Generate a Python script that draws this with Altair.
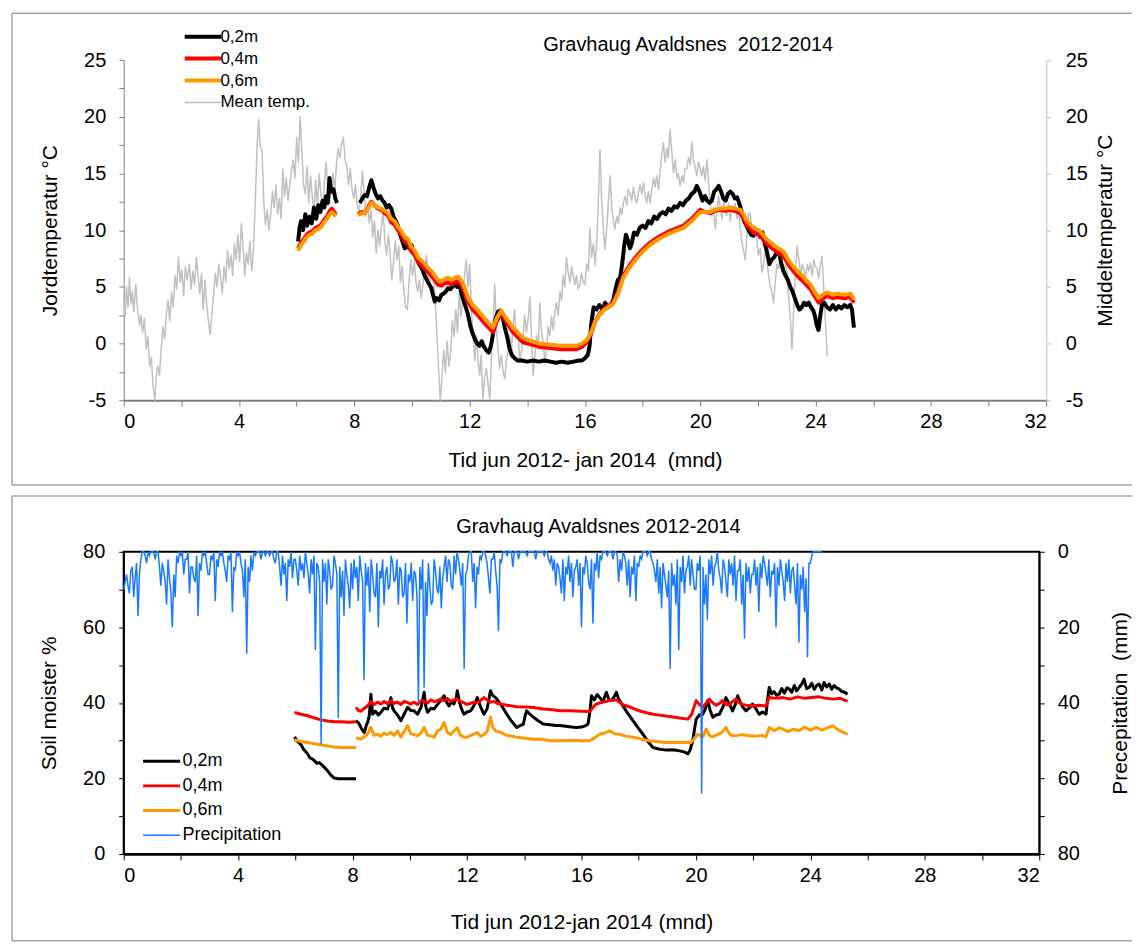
import altair as alt
import pandas as pd
import numpy as np

FONT = "Liberation Sans"

# ------------------------------------------------------------------ top panel
TOP_TITLE = "Gravhaug Avaldsnes\u00a0 2012-2014"
TOP_XTITLE = "Tid jun 2012- jan 2014\u00a0 (mnd)"
TOP_YTITLE = "Jordtemperatur °C"
TOP_Y2TITLE = "Middeltemperatur °C"
TOP_SERIES = ["0,2m", "0,4m", "0,6m", "Mean temp."]

MEAN_MONTH = [0.00, 0.05, 0.10, 0.15, 0.20, 0.25, 0.30, 0.35, 0.42, 0.48, 0.55, 0.60, 0.66, 0.72, 0.78, 0.84, 0.90, 0.96,
              1.02, 1.08, 1.13, 1.18, 1.24, 1.30, 1.36, 1.42, 1.48, 1.54, 1.60, 1.66, 1.72, 1.78, 1.84, 1.90, 1.96,
              2.02, 2.08, 2.14, 2.20, 2.28, 2.34, 2.40, 2.46, 2.52, 2.58, 2.64, 2.70, 2.76, 2.82, 2.88, 2.94,
              3.00, 3.06, 3.12, 3.18, 3.24, 3.30, 3.36, 3.42, 3.48, 3.54, 3.60, 3.66, 3.72, 3.78, 3.84, 3.90, 3.96,
              4.02, 4.08, 4.14, 4.20, 4.26, 4.32, 4.38, 4.44, 4.50, 4.56, 4.62, 4.68, 4.74, 4.80, 4.86, 4.92, 4.98,
              5.04, 5.10, 5.16, 5.22, 5.28, 5.34, 5.40, 5.46, 5.52, 5.58, 5.64, 5.70, 5.76, 5.82, 5.88, 5.94,
              6.00, 6.06, 6.12, 6.18, 6.24, 6.30, 6.36, 6.42, 6.48, 6.54, 6.60, 6.66, 6.72, 6.78, 6.84, 6.90, 6.96,
              7.02, 7.08, 7.14, 7.20, 7.26, 7.32, 7.38, 7.44, 7.50, 7.56, 7.62, 7.68, 7.74, 7.80, 7.86, 7.92, 7.98,
              8.04, 8.10, 8.16, 8.22, 8.28, 8.34, 8.40, 8.46, 8.52, 8.58, 8.64, 8.70, 8.76, 8.82, 8.88, 8.94,
              9.00, 9.06, 9.12, 9.18, 9.24, 9.30, 9.36, 9.42, 9.48, 9.54, 9.60, 9.66, 9.72, 9.78, 9.84, 9.90, 9.96,
              10.02, 10.08, 10.14, 10.20, 10.26, 10.32, 10.38, 10.44, 10.50, 10.56, 10.62, 10.68, 10.74, 10.80, 10.86,
              10.92, 10.98, 11.04, 11.10, 11.16, 11.22, 11.28, 11.34, 11.40, 11.46, 11.52, 11.58, 11.64, 11.70, 11.76,
              11.82, 11.88, 11.94, 12.00, 12.06, 12.12, 12.18,
              12.23, 12.29, 12.35, 12.40, 12.46, 12.52, 12.58, 12.64, 12.70, 12.76, 12.82, 12.87, 12.93, 12.98,
              13.04, 13.10, 13.16, 13.22, 13.28, 13.34, 13.39, 13.45, 13.50, 13.56, 13.62, 13.68, 13.74, 13.80, 13.86,
              13.91, 13.97, 14.03, 14.09, 14.14, 14.20, 14.26, 14.32, 14.38, 14.43, 14.49, 14.55, 14.61, 14.67, 14.72,
              14.78, 14.84, 14.90, 14.96, 15.01, 15.07, 15.13, 15.19, 15.24, 15.30, 15.36, 15.42, 15.48, 15.54, 15.59,
              15.65, 15.71, 15.76, 15.82, 15.88, 15.94, 16.00, 16.06, 16.12, 16.17, 16.23, 16.29, 16.35, 16.41, 16.46,
              16.52, 16.58, 16.63, 16.69, 16.75, 16.81, 16.87, 16.93, 16.98, 17.04, 17.10, 17.16, 17.22, 17.28, 17.33,
              17.39, 17.45, 17.50, 17.56, 17.62, 17.68, 17.74, 17.79, 17.85, 17.91, 17.97, 18.03, 18.09, 18.14, 18.20,
              18.26, 18.32, 18.38, 18.43, 18.49, 18.55, 18.61, 18.66, 18.72, 18.78, 18.84, 18.89, 18.95, 19.01, 19.07,
              19.13, 19.19, 19.24, 19.30, 19.36, 19.42, 19.47, 19.53, 19.59, 19.65, 19.71, 19.76, 19.82, 19.88, 19.94,
              20.00, 20.05, 20.11, 20.17, 20.23, 20.28, 20.34, 20.40, 20.46, 20.52, 20.58, 20.63, 20.69, 20.75, 20.81,
              20.86, 20.92, 20.98, 21.04, 21.09, 21.15, 21.21, 21.27, 21.33, 21.39, 21.44, 21.50, 21.56, 21.62, 21.67,
              21.73, 21.79, 21.85, 21.91, 21.97, 22.02, 22.08, 22.14, 22.20, 22.25, 22.31, 22.37, 22.43, 22.48, 22.54,
              22.60, 22.66, 22.72, 22.78, 22.83, 22.89, 22.95, 23.01, 23.07, 23.13, 23.18, 23.24, 23.30, 23.36, 23.42,
              23.48, 23.53, 23.59, 23.65, 23.71, 23.76, 23.82, 23.88, 23.94, 23.99, 24.05, 24.11, 24.17, 24.22, 24.28,
              24.34, 24.40]
MEAN_TEMP = [4.3, 2.4, 5.0, 3.2, 5.8, 3.5, 4.6, 2.8, 5.2, 3.0, 1.6, 2.5, 1.0, 2.2, -0.5, 0.6, -2.0, -1.2,
             -3.8, -5.0, -3.0, -2.0, -2.8, -0.5, 1.5, 0.4, 2.6, 3.8, 2.0, 4.5, 3.2, 6.0, 4.8, 7.6, 5.4,
             6.5, 4.2, 6.8, 5.6, 7.0, 4.8, 6.4, 5.2, 7.6, 6.0, 4.4, 6.2, 3.0, 5.6, 3.4, 2.0,
             0.8, 2.6, 4.4, 6.2, 5.0, 7.0, 5.8, 4.4, 6.8, 5.4, 8.2, 6.6, 7.8, 6.0, 8.8, 7.4, 9.6,
             7.2, 10.6, 8.6, 6.0, 8.0, 7.0, 9.0, 6.4, 8.2, 12.0, 17.0, 19.8, 17.4, 17.0, 12.4, 10.5, 11.8,
             10.0, 11.4, 13.4, 12.0, 14.0, 11.4, 12.8, 11.0, 15.4, 13.0, 14.6, 12.6, 14.0, 15.2, 16.2, 14.6,
             18.2, 16.0, 20.0, 17.0, 14.0, 13.2, 15.6, 12.4, 14.8, 13.0, 11.6, 14.4, 12.0, 15.0, 13.2, 11.8, 14.2,
             16.0, 13.6, 12.4, 13.8, 15.0, 13.4, 15.8, 17.2, 16.4, 17.6, 18.2, 16.2, 15.6, 14.0, 15.4, 13.6, 12.8,
             14.0, 12.2, 11.6, 12.8, 15.2, 13.4, 11.2, 12.4, 10.6, 11.8, 9.4, 10.8, 8.0, 10.0, 8.6, 10.4,
             11.6, 9.0, 7.8, 9.6, 8.0, 5.6, 7.2, 9.0, 7.4, 8.6, 5.4, 6.8, 4.6, 3.2, 3.0, 5.6, 7.4,
             6.0, 7.2, 5.4, 4.6, 5.6, 4.0, 5.2, 6.4, 7.8, 6.2, 5.0, 6.4, 6.0, 4.0, 1.0,
             -2.0, -5.0, -3.0, -0.6, -2.6, 0.2, -2.0, -0.8, 2.0, 0.6, 3.0, 1.0, 4.6, 2.4, 4.0,
             6.0, 7.4, 5.0, 7.0, 3.0, 0.6, -1.5,
             0.7, -1.5, -2.8, -1.0, -4.9, -3.0, -2.2, -3.6, -4.9, -1.0, 2.0, 5.2, 1.5, -0.5,
             -2.2, -1.0, -2.5, -3.1, -1.5, -0.4, 0.7, -0.8, 1.6, 3.0, 0.5, 1.2, -1.7, -0.6, 0.8,
             2.5, 1.0, 2.2, 4.1, 1.0, -2.8, -1.2, 0.7, -0.5, 3.6, 1.2, 0.0, -1.7, -0.5, 1.5,
             0.7, 2.4, 1.2, 2.8, 3.6, 2.5, 4.6, 3.8, 6.0, 5.0, 7.6, 6.2, 5.4, 6.8, 6.0,
             5.2, 6.0, 4.8, 5.1, 6.2, 5.4, 5.2, 7.0, 6.4, 10.2, 7.6, 8.8, 6.9, 9.0, 12.0,
             17.1, 12.6, 10.4, 8.3, 10.0, 12.4, 14.8, 12.0, 11.0, 10.1, 11.2, 10.6, 12.0, 11.4, 12.4,
             13.0, 12.2, 13.6, 13.3, 12.6, 13.8, 12.8, 12.4, 13.2, 14.0, 13.2, 14.2, 13.0, 12.4, 13.4,
             12.4, 13.6, 14.6, 13.8, 14.8, 13.6, 15.2, 16.6, 17.7, 16.0, 17.2, 16.4, 18.9, 17.0, 15.1,
             16.2, 14.6, 15.0, 13.9, 14.8, 14.2, 15.4, 15.4, 16.4, 15.8, 17.8, 16.2, 15.6, 14.8, 16.0,
             15.4, 14.8, 15.6, 14.4, 16.2, 14.6, 12.4, 11.2, 12.0, 10.1, 11.6, 13.0, 12.1, 11.0, 12.6,
             11.8, 11.3, 12.4, 10.8, 12.0, 11.5, 12.4, 11.0, 11.8, 10.1, 9.0, 8.2, 7.4, 9.6, 11.5,
             11.5, 10.2, 9.6, 10.4, 8.9, 7.8, 8.4, 6.3, 7.0, 8.2, 7.4, 6.0, 5.0, 4.6, 3.6,
             5.4, 7.0, 6.6, 8.3, 7.2, 6.0, 7.0, 6.3, 4.0, 2.0, -0.5, 3.0, 6.6, 8.6, 7.4,
             6.0, 7.0, 6.6, 5.8, 7.0, 6.4, 7.1, 6.0, 7.4, 6.8, 6.6, 5.8, 7.0, 7.7, 5.0,
             2.0, -1.1]

T02_MONTH_A = [6.05, 6.10, 6.15, 6.22, 6.30, 6.36, 6.45, 6.52, 6.60, 6.68, 6.75, 6.82, 6.90, 6.96, 7.02, 7.08,
               7.14, 7.20, 7.28, 7.34, 7.40]
T02_TEMP_A = [9.0, 10.2, 10.8, 10.0, 11.4, 10.4, 11.2, 10.6, 12.0, 11.0, 12.2, 11.6, 12.6, 12.0, 13.0, 12.4,
              14.6, 13.4, 13.6, 12.8, 12.4]
T02_MONTH_B = [8.19, 8.28, 8.36, 8.44, 8.52, 8.59, 8.66, 8.74, 8.82, 8.90, 8.98, 9.05, 9.12, 9.20, 9.28, 9.36,
               9.44, 9.51, 9.59, 9.67, 9.75, 9.83, 9.90, 9.98, 10.06, 10.14, 10.21, 10.30, 10.38, 10.44, 10.52,
               10.60, 10.67, 10.74, 10.79, 10.86, 10.94, 11.02, 11.10, 11.18, 11.25, 11.33, 11.40, 11.48, 11.56,
               11.62, 11.68, 11.76, 11.84, 11.94, 12.02, 12.10, 12.18, 12.26, 12.34, 12.42, 12.50, 12.58, 12.66,
               12.74, 12.82, 12.90, 12.98, 13.06, 13.14, 13.22, 13.30, 13.38, 13.46, 13.56, 13.66, 13.80, 14.00,
               14.20, 14.40, 14.60, 14.80, 15.00, 15.20, 15.40, 15.60, 15.80, 15.90, 16.00, 16.10, 16.16, 16.22,
               16.30, 16.40, 16.50, 16.60, 16.70, 16.80, 16.90, 16.98, 17.06, 17.14, 17.22, 17.30, 17.36, 17.42,
               17.48, 17.56, 17.62, 17.70, 17.80, 17.90, 18.00, 18.10, 18.20, 18.30, 18.40, 18.50, 18.60, 18.70,
               18.80, 18.90, 19.00, 19.10, 19.20, 19.30, 19.40, 19.50, 19.60, 19.70, 19.80, 19.88, 19.94, 20.00,
               20.08, 20.16, 20.24, 20.32, 20.40, 20.48, 20.56, 20.64, 20.72, 20.80, 20.88, 20.96, 21.04, 21.12,
               21.20, 21.28, 21.36, 21.44, 21.52, 21.60, 21.68, 21.76, 21.84, 21.92, 22.00, 22.08, 22.16, 22.24,
               22.32, 22.40, 22.48, 22.56, 22.64, 22.72, 22.80, 22.88, 22.96, 23.04, 23.12, 23.20, 23.28, 23.36,
               23.44, 23.52, 23.60, 23.68, 23.76, 23.84, 23.92, 23.98, 24.04, 24.10, 24.16, 24.22, 24.30, 24.40,
               24.50, 24.60, 24.70, 24.80, 24.90, 25.00, 25.10, 25.20, 25.26, 25.33]
T02_TEMP_B = [12.4, 12.8, 13.1, 13.0, 13.8, 14.4, 13.8, 13.2, 12.8, 13.0, 12.6, 12.4, 12.0, 12.2, 11.9, 11.2,
              10.8, 10.4, 9.6, 9.0, 8.4, 8.6, 8.4, 8.7, 8.0, 7.6, 7.2, 6.8, 6.4, 6.0, 5.6,
              5.2, 4.9, 4.2, 3.7, 4.0, 3.8, 4.3, 4.4, 4.6, 4.9, 4.8, 5.0, 5.3, 5.0,
              5.2, 4.8, 4.0, 3.4, 2.6, 1.6, 0.9, 0.4, 0.0, -0.2, 0.2, -0.3, -0.6, -0.8,
              -0.2, 1.0, 2.2, 2.8, 2.9, 2.4, 1.4, 0.6, -0.4, -1.0, -1.3, -1.5, -1.5, -1.6,
              -1.5, -1.6, -1.5, -1.6, -1.7, -1.6, -1.7, -1.6, -1.5, -1.5, -1.3, -1.0, -0.2, 1.8,
              3.2, 3.0, 3.4, 3.0, 3.6, 3.2, 3.4, 3.8, 4.8, 5.6, 5.8, 7.2, 8.6, 9.6,
              9.2, 8.4, 8.8, 9.8, 9.6, 10.2, 10.4, 10.2, 10.8, 10.6, 11.2, 11.0, 11.4, 11.6,
              11.4, 11.9, 11.7, 12.1, 12.0, 12.4, 12.2, 12.6, 12.8, 13.2, 13.4, 13.9, 13.6, 13.2,
              12.6, 13.0, 12.6, 12.4, 12.6, 13.4, 13.6, 13.9, 13.4, 12.8, 12.6, 13.2, 13.4, 13.2,
              12.8, 12.9, 12.3, 11.6, 10.8, 10.4, 10.0, 9.6, 9.5, 9.8, 10.0, 9.4, 9.8, 8.8,
              8.0, 7.0, 7.4, 7.6, 8.0, 8.2, 7.2, 6.4, 6.0, 5.6, 5.0, 4.6, 4.0, 3.4,
              3.0, 3.2, 3.6, 3.4, 3.6, 3.2, 2.9, 2.4, 1.6, 1.2, 2.4, 3.4, 3.6, 3.2,
              3.0, 3.4, 3.0, 3.3, 3.1, 3.4, 3.2, 3.4, 3.0, 1.4]

T04_MONTH_A = [6.05, 6.15, 6.25, 6.35, 6.45, 6.55, 6.65, 6.75, 6.85, 6.95, 7.05, 7.15, 7.22, 7.30, 7.36]
T04_TEMP_A = [8.4, 8.9, 9.2, 9.6, 9.8, 9.9, 10.2, 10.3, 10.5, 10.9, 11.2, 11.7, 11.9, 11.6, 11.4]
T06_TEMP_A = [8.2, 8.7, 9.0, 9.4, 9.6, 9.7, 10.0, 10.1, 10.3, 10.7, 11.0, 11.4, 11.6, 11.4, 11.2]
T04_MONTH_B = [8.13, 8.25, 8.36, 8.48, 8.59, 8.70, 8.82, 8.94, 9.05, 9.17, 9.28, 9.40, 9.51, 9.63, 9.75, 9.87,
               9.98, 10.10, 10.21, 10.38, 10.55, 10.67, 10.79, 10.90, 11.02, 11.14, 11.25, 11.37, 11.48, 11.59,
               11.70, 11.82, 11.94, 12.10, 12.29, 12.52, 12.66, 12.81, 12.95, 13.10, 13.25, 13.50, 13.85, 14.15,
               14.43, 14.80, 15.13, 15.40, 15.71, 15.90, 16.06, 16.20, 16.35, 16.50, 16.64, 16.80, 16.98, 17.15,
               17.33, 17.55, 17.79, 18.00, 18.26, 18.55, 18.84, 19.10, 19.42, 19.70, 20.00, 20.17, 20.34, 20.50,
               20.69, 20.86, 21.04, 21.20, 21.39, 21.50, 21.62, 21.85, 22.08, 22.30, 22.54, 22.70, 22.89, 23.10,
               23.36, 23.60, 23.82, 23.96, 24.11, 24.25, 24.40, 24.60, 24.75, 25.00, 25.21, 25.33]
T04_TEMP_B = [11.4, 11.6, 11.5, 12.0, 12.5, 12.2, 11.9, 11.8, 11.5, 11.3, 10.7, 10.5, 10.0, 9.6, 9.0, 8.8,
              8.1, 7.8, 7.2, 6.8, 6.3, 6.0, 5.6, 5.2, 5.1, 5.3, 5.4, 5.2, 5.4, 5.5,
              5.2, 4.6, 3.7, 3.0, 2.5, 1.8, 1.4, 1.0, 2.0, 2.7, 2.0, 1.0, 0.1, -0.1,
              -0.3, -0.4, -0.5, -0.5, -0.5, -0.3, 0.1, 0.8, 1.9, 2.6, 3.0, 3.3, 3.6, 4.6,
              6.0, 6.9, 7.7, 8.3, 8.9, 9.4, 9.8, 10.1, 10.4, 11.0, 11.8, 11.6, 11.5, 11.7,
              11.8, 11.7, 11.8, 11.7, 11.5, 11.0, 10.4, 9.8, 9.5, 8.8, 8.3, 8.0, 7.7, 6.8,
              6.0, 5.4, 4.8, 4.2, 3.6, 4.0, 4.2, 4.0, 4.1, 4.0, 4.1, 3.6]
T06_TEMP_B = [11.3, 11.5, 11.5, 11.9, 12.4, 12.2, 12.0, 11.9, 11.7, 11.5, 11.0, 10.8, 10.3, 9.9, 9.4, 9.2,
              8.5, 8.2, 7.6, 7.2, 6.7, 6.4, 6.0, 5.6, 5.5, 5.7, 5.8, 5.6, 5.8, 5.9,
              5.6, 5.0, 4.1, 3.4, 2.9, 2.2, 1.8, 1.4, 2.3, 2.9, 2.3, 1.4, 0.5, 0.2,
              0.0, -0.1, -0.2, -0.2, -0.2, 0.0, 0.3, 0.9, 1.9, 2.5, 2.9, 3.2, 3.5, 4.4,
              5.8, 6.7, 7.5, 8.1, 8.7, 9.2, 9.6, 9.9, 10.2, 10.8, 11.6, 11.6, 11.6, 11.8,
              11.9, 11.9, 12.0, 11.9, 11.8, 11.4, 10.8, 10.2, 9.9, 9.2, 8.7, 8.4, 8.1, 7.2,
              6.4, 5.8, 5.2, 4.6, 4.0, 4.3, 4.5, 4.3, 4.4, 4.3, 4.4, 3.9]

# --------------------------------------------------------------- bottom panel
BOT_TITLE = "Gravhaug Avaldsnes 2012-2014"
BOT_XTITLE = "Tid jun 2012-jan 2014 (mnd)"
BOT_YTITLE = "Soil moister %"
BOT_Y2TITLE = "Precepitation\u00a0 (mm)"
BOT_SERIES = ["0,2m", "0,4m", "0,6m", "Precipitation"]

M02_MONTH_A = [5.97, 6.05, 6.12, 6.20, 6.28, 6.35, 6.43, 6.50, 6.58, 6.67, 6.75, 6.83, 6.90, 6.98, 7.06, 7.13,
               7.21, 7.28, 7.36, 7.50, 7.70, 7.90, 8.12]
M02_VAL_A = [31.0, 30.0, 29.5, 28.9, 27.8, 27.2, 26.5, 25.5, 25.2, 24.7, 24.0, 24.2, 23.8, 23.2, 22.6, 22.0,
             21.2, 20.6, 20.1, 19.9, 19.9, 19.9, 19.9]
M02_MONTH_B = [8.12, 8.22, 8.29, 8.36, 8.41, 8.47, 8.52, 8.58, 8.64, 8.70, 8.80, 8.90, 8.99, 9.10, 9.22, 9.28,
               9.34, 9.40, 9.45, 9.57, 9.69, 9.80, 9.92, 10.03, 10.15, 10.27, 10.40, 10.50, 10.56, 10.62, 10.74,
               10.85, 10.97, 11.08, 11.20, 11.30, 11.37, 11.47, 11.54, 11.62, 11.66, 11.74, 11.82, 11.89, 12.00,
               12.13, 12.25, 12.36, 12.47, 12.59, 12.70, 12.82, 12.90, 13.00, 13.08, 13.17, 13.28, 13.39, 13.55,
               13.74, 13.86, 13.97, 14.03, 14.08, 14.20, 14.32, 14.50, 14.66, 14.90, 15.10, 15.25, 15.45, 15.65,
               15.83, 16.00, 16.15, 16.23, 16.30, 16.35, 16.45, 16.55, 16.64, 16.75, 16.87, 16.96, 17.05, 17.14,
               17.22, 17.30, 17.45, 17.60, 17.80, 17.98, 18.15, 18.32, 18.50, 18.70, 18.96, 19.20, 19.43, 19.60,
               19.72, 19.80, 19.89, 19.95, 20.01, 20.12, 20.24, 20.33, 20.41, 20.50, 20.59, 20.70, 20.82, 20.95,
               21.05, 21.15, 21.28, 21.38, 21.46, 21.55, 21.65, 21.75, 21.86, 21.98, 22.10, 22.21, 22.33, 22.45,
               22.50, 22.56, 22.65, 22.73, 22.82, 22.91, 23.00, 23.09, 23.18, 23.26, 23.35, 23.44, 23.52, 23.61,
               23.70, 23.78, 23.87, 23.96, 24.05, 24.14, 24.22, 24.31, 24.40, 24.48, 24.57, 24.66, 24.75, 24.83,
               24.92, 25.00, 25.10, 25.20, 25.30]
M02_VAL_B = [35.3, 34.6, 33.5, 32.6, 32.2, 33.8, 34.8, 36.4, 42.3, 37.0, 37.8, 36.8, 37.5, 38.6, 38.4, 39.6,
             41.4, 38.6, 37.9, 36.8, 35.3, 37.0, 38.8, 38.0, 37.9, 37.0, 39.0, 42.8, 39.0, 37.5, 38.6,
             38.4, 39.6, 40.6, 41.9, 40.0, 39.2, 40.4, 39.7, 41.2, 43.2, 40.0, 38.2, 37.0, 37.6,
             37.9, 39.4, 41.4, 39.0, 37.0, 38.4, 43.2, 42.0, 41.4, 40.6, 39.7, 38.4, 37.0, 35.2,
             33.5, 34.0, 34.4, 36.6, 37.9, 37.0, 36.2, 35.2, 34.4, 34.2, 34.0, 34.0, 33.8, 33.6,
             33.5, 33.6, 34.0, 34.4, 38.0, 41.9, 40.8, 42.2, 41.4, 40.4, 42.8, 40.8, 40.6, 41.6,
             42.8, 41.0, 39.2, 37.4, 35.3, 33.4, 31.7, 29.8, 28.2, 27.8, 27.5, 27.6, 27.3, 27.0,
             26.5, 27.6, 30.0, 33.0, 35.7, 36.8, 37.0, 38.4, 40.6, 38.0, 36.2, 36.8, 37.0, 39.0,
             41.4, 40.0, 37.9, 39.6, 41.9, 40.2, 38.8, 37.9, 38.6, 39.7, 38.4, 37.0, 37.6, 37.0,
             40.5, 44.1, 42.4, 43.0, 42.0, 42.3, 43.8, 42.6, 44.0, 43.7, 42.8, 44.6, 43.2, 44.1,
             45.0, 46.3, 43.8, 44.1, 45.2, 43.6, 44.6, 45.0, 43.4, 45.4, 44.2, 45.0, 43.6, 44.6,
             44.0, 43.7, 43.0, 42.8, 42.3]

M04_MONTH_A = [5.97, 6.20, 6.43, 6.67, 6.90, 7.13, 7.36, 7.60, 7.90, 8.12]
M04_VAL_A = [37.5, 37.0, 36.6, 36.0, 35.5, 35.2, 35.0, 35.0, 34.9, 35.0]
M04_MONTH_B = [8.12, 8.20, 8.30, 8.41, 8.52, 8.64, 8.75, 8.87, 8.99, 9.10, 9.22, 9.34, 9.45, 9.57, 9.69, 9.80,
               9.92, 10.03, 10.15, 10.27, 10.38, 10.50, 10.62, 10.74, 10.85, 10.97, 11.08, 11.20, 11.31, 11.43,
               11.54, 11.66, 11.77, 11.89, 12.00, 12.13, 12.25, 12.36, 12.47, 12.59, 12.70, 12.82, 12.94, 13.05,
               13.17, 13.39, 13.74, 14.08, 14.32, 14.66, 15.00, 15.25, 15.60, 16.00, 16.29, 16.40, 16.52, 16.75,
               16.99, 17.22, 17.45, 17.70, 17.98, 18.27, 18.50, 18.80, 19.08, 19.43, 19.72, 19.85, 20.01, 20.12,
               20.24, 20.36, 20.47, 20.59, 20.70, 20.82, 20.93, 21.05, 21.17, 21.28, 21.40, 21.52, 21.63, 21.75,
               21.98, 22.21, 22.45, 22.56, 22.80, 23.05, 23.30, 23.55, 23.80, 24.05, 24.30, 24.55, 24.80, 25.05,
               25.30]
M04_VAL_B = [38.8, 38.0, 37.8, 38.6, 39.2, 40.4, 39.6, 40.2, 39.7, 40.4, 39.8, 40.6, 39.9, 40.2, 39.6, 40.4,
             40.1, 39.7, 40.2, 39.6, 40.5, 40.6, 40.0, 40.8, 40.3, 40.6, 41.0, 40.6, 41.2, 40.4,
             40.8, 41.0, 40.4, 40.0, 39.6, 39.9, 40.2, 40.0, 40.6, 41.4, 40.8, 40.2, 40.4, 39.9,
             39.7, 39.4, 39.0, 38.9, 38.8, 38.4, 38.2, 37.9, 37.9, 37.8, 37.7, 38.8, 39.7, 40.2,
             40.6, 40.8, 39.5, 38.9, 38.0, 37.4, 37.0, 36.7, 36.4, 36.0, 35.7, 37.0, 40.6, 39.6,
             38.8, 40.0, 41.0, 40.0, 39.4, 39.8, 40.6, 39.6, 39.4, 40.4, 41.0, 40.0, 39.6, 39.4,
             39.2, 39.4, 39.2, 41.4, 41.2, 41.4, 41.0, 41.6, 41.2, 41.4, 41.6, 41.2, 41.0, 41.2,
             40.4]

M06_MONTH_A = [5.97, 6.20, 6.43, 6.67, 6.90, 7.13, 7.36, 7.60, 7.90, 8.12]
M06_VAL_A = [30.2, 29.8, 29.5, 29.2, 28.9, 28.6, 28.3, 28.2, 28.2, 28.2]
M06_MONTH_B = [8.12, 8.30, 8.52, 8.64, 8.75, 8.87, 8.99, 9.10, 9.22, 9.34, 9.45, 9.57, 9.69, 9.80, 9.92, 10.03,
               10.15, 10.27, 10.38, 10.50, 10.62, 10.74, 10.85, 10.97, 11.08, 11.20, 11.31, 11.43, 11.54, 11.66,
               11.77, 11.89, 12.00, 12.13, 12.25, 12.36, 12.47, 12.59, 12.70, 12.82, 12.90, 13.00, 13.17, 13.39,
               13.75, 14.10, 14.33, 14.60, 14.91, 15.25, 15.60, 16.00, 16.29, 16.50, 16.64, 16.80, 16.99, 17.15,
               17.34, 17.55, 17.80, 18.10, 18.38, 18.70, 18.96, 19.40, 19.83, 20.06, 20.24, 20.36, 20.47, 20.59,
               20.75, 20.90, 21.05, 21.17, 21.28, 21.45, 21.60, 21.86, 22.10, 22.30, 22.45, 22.56, 22.75, 22.90,
               23.03, 23.20, 23.40, 23.61, 23.80, 24.00, 24.20, 24.40, 24.60, 24.78, 24.95, 25.10, 25.30]
M06_VAL_B = [30.7, 30.4, 31.7, 33.5, 31.4, 31.7, 31.2, 32.0, 31.6, 32.2, 31.4, 32.6, 31.0, 32.4, 34.0, 31.8,
             31.6, 31.3, 32.0, 33.5, 31.4, 31.2, 30.9, 32.6, 33.0, 34.8, 32.2, 31.6, 32.6, 33.4,
             31.4, 31.0, 30.9, 31.4, 31.8, 32.2, 31.2, 31.6, 32.4, 36.2, 33.6, 32.6, 32.2, 31.4,
             30.9, 30.6, 30.4, 30.4, 30.0, 30.0, 30.1, 30.0, 30.0, 31.0, 31.7, 32.0, 32.6, 31.8,
             31.7, 31.2, 30.9, 30.4, 30.0, 29.7, 29.5, 29.5, 29.5, 31.7, 31.0, 33.1, 31.4, 31.0,
             31.6, 32.2, 33.5, 31.8, 31.3, 31.4, 31.6, 31.3, 31.2, 31.4, 31.0, 33.5, 32.6, 33.4,
             33.1, 32.4, 33.0, 32.7, 33.6, 32.8, 33.5, 32.8, 33.4, 34.0, 33.0, 32.4, 31.7]

# precipitation, one value every 0.05 month from month 0.0 to 24.4 (one row per month)
PRECIP_MM = [10, 8, 6, 9, 11, 5, 4, 12, 7, 3, 17, 6, 2, 0, 0, 1, 3, 0, 1, 0,
             0, 0, 2, 0, 0, 4, 9, 3, 5, 8, 14, 2, 7, 11, 20, 6, 12, 1, 3, 0,
             1, 0, 6, 2, 2, 0, 11, 4, 4, 7, 8, 1, 17, 3, 5, 0, 1, 0, 3, 6,
             6, 1, 2, 0, 13, 2, 4, 0, 1, 0, 3, 5, 8, 1, 2, 0, 16, 4, 5, 0,
             1, 0, 3, 5, 12, 2, 27, 4, 8, 1, 5, 0, 1, 0, 0, 0, 2, 0, 0, 1,
             0, 0, 1, 0, 0, 2, 3, 0, 0, 4, 9, 1, 6, 3, 13, 2, 4, 0, 7, 2,
             2, 5, 9, 1, 5, 3, 7, 0, 3, 6, 11, 2, 6, 1, 26, 3, 4, 8, 51, 2,
             8, 3, 14, 2, 5, 10, 9, 1, 3, 6, 44, 4, 12, 5, 17, 2, 6, 9, 15, 3,
             10, 2, 7, 4, 13, 1, 5, 8, 34, 3, 9, 4, 16, 2, 6, 11, 12, 3, 20, 5,
             7, 2, 14, 6, 4, 10, 9, 1, 3, 8, 7, 2, 14, 4, 5, 12, 11, 3, 19, 6,
             8, 3, 13, 5, 6, 12, 40, 4, 10, 2, 36, 8, 17, 3, 9, 14, 13, 2, 5, 10,
             11, 4, 15, 7, 4, 1, 8, 2, 3, 9, 10, 1, 6, 0, 2, 5, 9, 3, 31, 6,
             5, 1, 0, 0, 8, 3, 15, 4, 6, 1, 2, 0, 0, 1, 3, 7, 11, 2, 2, 0,
             5, 9, 21, 2, 3, 0, 0, 0, 1, 0, 0, 0, 4, 0, 0, 0, 2, 0, 0, 0,
             0, 0, 1, 0, 0, 0, 0, 0, 2, 0, 0, 0, 0, 0, 1, 0, 0, 2, 3, 1,
             5, 2, 9, 3, 4, 7, 11, 2, 13, 4, 6, 1, 8, 3, 12, 5, 4, 2, 9, 3,
             20, 4, 6, 1, 3, 8, 10, 2, 19, 3, 5, 0, 7, 1, 2, 0, 0, 0, 1, 0,
             0, 0, 2, 0, 0, 1, 8, 2, 5, 0, 1, 3, 9, 2, 12, 4, 6, 1, 13, 3,
             4, 1, 2, 0, 0, 0, 1, 0, 0, 2, 3, 5, 8, 2, 11, 4, 15, 3, 6, 9,
             12, 5, 31, 3, 9, 6, 14, 2, 26, 4, 8, 1, 11, 5, 4, 1, 9, 2, 6, 10,
             10, 3, 5, 1, 64, 4, 14, 6, 18, 2, 6, 1, 9, 4, 3, 0, 5, 7, 11, 2,
             4, 8, 12, 2, 6, 3, 9, 1, 13, 5, 5, 2, 14, 6, 23, 3, 8, 4, 11, 6,
             6, 2, 9, 4, 16, 3, 7, 1, 3, 6, 9, 2, 12, 5, 6, 3, 20, 4, 9, 2,
             5, 8, 13, 3, 8, 2, 11, 5, 4, 9, 14, 3, 24, 6, 10, 4, 16, 7, 28, 3,
             3, 1, 0, 0, 0, 0, 0, 0, 0]
PRECIP_MONTH = list(np.round(np.arange(len(PRECIP_MM)) * 0.05, 2))

X_TICKS = list(range(0, 33, 2))


def rows(series, parts, field):
    out = []
    for seg, (ms, vs) in enumerate(parts):
        for m, v in zip(ms, vs):
            out.append({"month": m, "value": v, field: series, "seg": seg})
    return out


top_soil = pd.DataFrame(
    rows("0,2m", [(T02_MONTH_A, T02_TEMP_A), (T02_MONTH_B, T02_TEMP_B)], "series")
    + rows("0,4m", [(T04_MONTH_A, T04_TEMP_A), (T04_MONTH_B, T04_TEMP_B)], "series")
    + rows("0,6m", [(T04_MONTH_A, T06_TEMP_A), (T04_MONTH_B, T06_TEMP_B)], "series")
)
top_mean = pd.DataFrame(rows("Mean temp.", [(MEAN_MONTH, MEAN_TEMP)], "series"))

bot_soil = pd.DataFrame(
    rows("0,2m", [(M02_MONTH_A, M02_VAL_A), (M02_MONTH_B, M02_VAL_B)], "depth")
    + rows("0,4m", [(M04_MONTH_A, M04_VAL_A), (M04_MONTH_B, M04_VAL_B)], "depth")
    + rows("0,6m", [(M06_MONTH_A, M06_VAL_A), (M06_MONTH_B, M06_VAL_B)], "depth")
)
bot_prec = pd.DataFrame(rows("Precipitation", [(PRECIP_MONTH, PRECIP_MM)], "depth"))

ONE = pd.DataFrame({"k": [0]})
FRAME = "#A6A6A6"


def frame(top, bottom):
    base = alt.Chart(ONE)
    kw = dict(color=FRAME, strokeWidth=1.5)
    return [
        base.mark_rule(**kw).encode(x=alt.value(-112), x2=alt.value(1011), y=alt.value(top)),
        base.mark_rule(**kw).encode(x=alt.value(-112), y=alt.value(top), y2=alt.value(bottom)),
        base.mark_rule(**kw).encode(x=alt.value(-112), x2=alt.value(1011), y=alt.value(bottom)),
    ]


def title_text(text, x, y):
    return alt.Chart(pd.DataFrame({"t": [text]})).mark_text(
        font=FONT, fontSize=20, align="center", baseline="alphabetic", color="#000000"
    ).encode(x=alt.value(x), y=alt.value(y), text="t:N")


# ------------------------------------------------------------ top chart
top_color = alt.Scale(domain=TOP_SERIES, range=["#000000", "#FF0000", "#FF9900", "#C0C0C0"])
top_width = alt.Scale(type="ordinal", domain=TOP_SERIES, range=[4, 4, 4, 1.5])
top_legend = alt.Legend(title=None, orient="none", legendX=71, legendY=-32, symbolType="M-4,0H4",
                        symbolSize=84, labelFontSize=17, labelFont=FONT, rowPadding=4, labelOffset=9,
                        padding=0)

x_top = alt.X("month:Q", scale=alt.Scale(domain=[0, 32], nice=False, zero=False),
              axis=alt.Axis(values=X_TICKS, labelExpr="datum.value % 4 == 0 ? '' + datum.value : ''",
                            title=TOP_XTITLE, titleY=66, titleBaseline="alphabetic",
                            domainColor="#808080", domainWidth=2, tickColor="#808080", tickSize=6,
                            labelPadding=5))

mean_layer = alt.Chart(top_mean).mark_line(strokeJoin="round").encode(
    x=x_top,
    y=alt.Y("value:Q", scale=alt.Scale(domain=[-5, 25], nice=False, zero=False),
            axis=alt.Axis(orient="right", values=list(range(-5, 26, 5)), labelExpr="'' + datum.value",
                          title=TOP_Y2TITLE, titleAngle=270, titleX=59, titleY=170.5, titleAlign="center",
                          titleBaseline="middle", domainColor="#BFBFBF", tickColor="#BFBFBF", tickSize=4,
                          labelPadding=15)),
    color=alt.Color("series:N", scale=top_color, legend=top_legend),
    strokeWidth=alt.StrokeWidth("series:N", scale=top_width, legend=top_legend),
    detail="seg:N",
)

soil_layer = alt.Chart(top_soil).mark_line(strokeJoin="round").encode(
    x=x_top,
    y=alt.Y("value:Q", scale=alt.Scale(domain=[-5, 25], nice=False, zero=False),
            axis=alt.Axis(orient="left", values=[v / 2 for v in range(-10, 51, 5)],
                          labelExpr="datum.value % 5 == 0 ? '' + datum.value : ''",
                          title=TOP_YTITLE, titleAngle=270, titleX=-73, titleY=170.5, titleAlign="center",
                          titleBaseline="middle", domainColor="#808080", tickColor="#808080", tickSize=5,
                          labelPadding=13)),
    color=alt.Color("series:N", scale=top_color, legend=top_legend),
    strokeWidth=alt.StrokeWidth("series:N", scale=top_width, legend=top_legend),
    detail="seg:N",
)

top = alt.layer(mean_layer, soil_layer, *frame(-47, 426), title_text(TOP_TITLE, 566, -9)).resolve_scale(
    y="independent"
).properties(
    width=925, height=341,
    view=alt.ViewBackground(stroke="transparent"),
)

# ------------------------------------------------------------ bottom chart
bot_color = alt.Scale(domain=BOT_SERIES, range=["#000000", "#FF0000", "#FF9900", "#1A7AFF"])
bot_width = alt.Scale(type="ordinal", domain=BOT_SERIES, range=[3, 3, 3, 1.5])
bot_legend = alt.Legend(title=None, orient="none", legendX=29, legendY=201, symbolType="M-4,0H4",
                        symbolSize=86, labelFontSize=18, labelFont=FONT, rowPadding=6.7, labelOffset=12,
                        padding=0)

x_bot = alt.X("month:Q", scale=alt.Scale(domain=[0, 32], nice=False, zero=False),
              axis=alt.Axis(values=X_TICKS, labelExpr="datum.value % 4 == 0 ? '' + datum.value : ''",
                            title=BOT_XTITLE, titleY=75, titleBaseline="alphabetic",
                            domainColor="#000000", domainWidth=2.5, tickColor="#000000", tickSize=6,
                            labelPadding=6))

bsoil = alt.Chart(bot_soil).mark_line(strokeJoin="round").encode(
    x=x_bot,
    y=alt.Y("value:Q", scale=alt.Scale(domain=[0, 80], nice=False),
            axis=alt.Axis(orient="left", values=list(range(0, 81, 10)),
                          labelExpr="datum.value % 20 == 0 ? '' + datum.value : ''",
                          title=BOT_YTITLE, titleAngle=270, titleX=-74, titleY=151.5, titleAlign="center",
                          titleBaseline="middle", domainColor="#000000", domainWidth=1.5, tickColor="#000000",
                          tickSize=5, labelPadding=14)),
    color=alt.Color("depth:N", scale=bot_color, legend=bot_legend),
    strokeWidth=alt.StrokeWidth("depth:N", scale=bot_width, legend=bot_legend),
    detail="seg:N",
)

bprec = alt.Chart(bot_prec).mark_line(strokeJoin="miter").encode(
    x=x_bot,
    y=alt.Y("value:Q", scale=alt.Scale(domain=[0, 80], nice=False, reverse=True),
            axis=alt.Axis(orient="right", values=list(range(0, 81, 10)),
                          labelExpr="datum.value % 20 == 0 ? '' + datum.value : ''",
                          title=BOT_Y2TITLE, titleAngle=270, titleX=81, titleY=151.5, titleAlign="center",
                          titleBaseline="middle", domainColor="#000000", domainWidth=1.5, tickColor="#000000",
                          tickSize=5, labelPadding=13)),
    color=alt.Color("depth:N", scale=bot_color, legend=bot_legend),
    strokeWidth=alt.StrokeWidth("depth:N", scale=bot_width, legend=bot_legend),
    detail="seg:N",
)

bottom = alt.layer(bsoil, bprec, *frame(-56, 390), title_text(BOT_TITLE, 476, -19)).resolve_scale(
    y="independent"
).properties(
    width=918, height=303,
    view=alt.ViewBackground(stroke="#000000", strokeWidth=2),
)

chart = alt.vconcat(top, bottom, spacing=152, bounds="flush").resolve_scale(
    color="independent", strokeWidth="independent"
).properties(
    padding={"left": 2, "top": 2, "right": 0, "bottom": 0},
).configure_axis(
    labelFont=FONT, titleFont=FONT, labelFontSize=20, titleFontSize=21, titleFontWeight="normal",
    labelColor="#000000", titleColor="#000000", grid=False,
).configure_view(stroke="transparent")

chart.save("out.html", embed_options={"renderer": "svg", "actions": False})
